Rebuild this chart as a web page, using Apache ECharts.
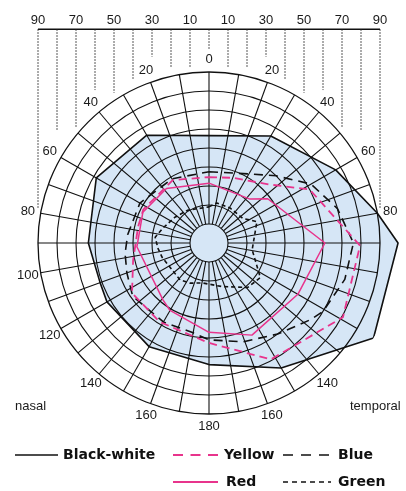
<!DOCTYPE html>
<html>
<head>
<meta charset="utf-8">
<script src="https://cdn.jsdelivr.net/npm/echarts@6/dist/echarts.min.js"></script>
<style>
  html, body { margin: 0; padding: 0; background: #ffffff; }
  #chart { width: 406px; height: 491px; }
</style>
</head>
<body>
<div id="chart"></div>
<script>
// Kinetic perimetry isopters of one eye.
// Meridian angle in degrees, clockwise from superior (0 = up, 90 = temporal, 270 = nasal);
// eccentricity in degrees of visual angle.
const bwAngles    = [0, 30, 60, 80, 90, 120, 150, 180, 210, 240, 250, 270, 300, 330];
const bwEcc       = [56.5, 65, 77, 90, 99.5, 100, 76, 64, 63, 62, 61, 63.5, 68.5, 65.5];

const yellowAngles = [0, 20, 46, 62, 91, 119, 152, 180, 212, 237, 257, 283, 297, 330];
const yellowEcc    = [34.7, 36.5, 44.3, 60, 79.5, 80.6, 69.4, 52.6, 49, 48.3, 41, 38.3, 38.8, 38.2];

const blueAngles = [0, 30, 45, 60, 75, 90, 105, 121, 127, 143, 161, 180, 190, 210, 235, 250, 263, 276, 300, 330];
const blueEcc    = [37.5, 42, 50, 62, 70, 76, 74, 70, 67, 60, 55, 51, 48, 48, 49, 46, 44.5, 43, 42, 39];

const redAngles = [0, 43, 53, 90, 120, 155, 180, 210, 219, 267, 295, 322];
const redEcc    = [31.5, 31.6, 38.7, 61, 54, 53.5, 47, 41, 38.5, 38, 38.4, 36.4];

const greenAngles = [0, 11, 31, 54, 66, 99, 124, 139, 149, 163, 189, 205, 218, 234, 253, 264, 276, 288, 307, 327];
const greenEcc    = [19, 21.5, 21.5, 22, 27.6, 23, 32.6, 31, 27, 24, 21.3, 23.3, 24.7, 24, 25.8, 27, 28.5, 25.5, 22.5, 20.6];

// chart furniture
const ringValues   = [10, 20, 30, 40, 50, 60, 70, 80, 90];
const meridianStep = 10;
const leftLabels   = [20, 40, 60, 80, 100, 120, 140, 160];
const rightLabels  = [20, 40, 60, 80, 140, 160];
const scaleLabels  = [90, 70, 50, 30, 10, 10, 30, 50, 70, 90];

const PINK = '#e8348c';
const INK = '#111111';
const LABEL_FONT = '13px "Liberation Sans", Arial, sans-serif';
const LEGEND_FONT = 'bold 14px "DejaVu Sans", Verdana, sans-serif';

function toPolar(angles, ecc) {
  const pts = angles.map((a, i) => [ecc[i], a]);
  pts.push([ecc[0], angles[0]]);
  return pts;
}

const chart = echarts.init(document.getElementById('chart'), null, { renderer: 'canvas' });

// grid, meridian labels and the top scale
function renderGrid(params, api) {
  const c = api.coord([0, 0]);
  const u = api.coord([10, 90])[0] - c[0]; // pixels per 10 degrees of eccentricity
  const children = [];
  ringValues.forEach(v => {
    children.push({
      type: 'circle',
      shape: { cx: c[0], cy: c[1], r: api.coord([v, 90])[0] - c[0] },
      style: { fill: null, stroke: INK, lineWidth: v === 90 ? 1.3 : 1.1 }
    });
  });
  for (let a = 0; a < 360; a += meridianStep) {
    const p0 = api.coord([10, a]), p1 = api.coord([90, a]);
    children.push({ type: 'line', shape: { x1: p0[0], y1: p0[1], x2: p1[0], y2: p1[1] },
      style: { stroke: INK, lineWidth: 1.1 } });
  }
  const labelR = 96.8;
  const addLabel = (txt, ang) => {
    const p = api.coord([labelR, ang]);
    children.push({ type: 'text', x: p[0], y: p[1],
      style: { text: String(txt), font: LABEL_FONT, fill: '#1a1a1a',
        align: 'center', verticalAlign: 'middle' } });
  };
  addLabel(0, 0);
  addLabel(180, 180);
  leftLabels.forEach(v => addLabel(v, 360 - v));
  rightLabels.forEach(v => addLabel(v, v));

  // top scale with dotted drop lines
  const axisY = c[1] - 11.25 * u;
  const dropEnds = [10.15, 9.2, 9.25, 9.8, 8.6, 7.9, 8.05, 6.1, 5.95, 1.85];
  children.push({ type: 'line', shape: { x1: c[0] - 9 * u, y1: axisY, x2: c[0] + 9 * u, y2: axisY },
    style: { stroke: INK, lineWidth: 1.3 } });
  for (let k = -9; k <= 9; k++) {
    const x = c[0] + k * u;
    children.push({ type: 'line', shape: { x1: x, y1: axisY, x2: x, y2: c[1] - dropEnds[Math.abs(k)] * u },
      style: { stroke: '#222', lineWidth: 1, lineDash: [1.5, 1.5] } });
  }
  scaleLabels.forEach((v, i) => {
    children.push({ type: 'text', x: c[0] + (2 * i - 9) * u, y: axisY - 0.45 * u,
      style: { text: String(v), font: LABEL_FONT, fill: '#1a1a1a',
        align: 'center', verticalAlign: 'middle' } });
  });
  return { type: 'group', children };
}

// filled black-white field
function renderField(params, api) {
  const pts = bwAngles.map((a, i) => api.coord([bwEcc[i], a]));
  return { type: 'polygon', shape: { points: pts }, style: { fill: '#d6e6f6', stroke: null } };
}

const lineSeries = (name, angles, ecc, color, width, dash, z) => ({
  name, type: 'line', coordinateSystem: 'polar', data: toPolar(angles, ecc),
  symbol: 'none', smooth: false, z, silent: true, animation: false,
  lineStyle: { color, width, type: dash }
});

chart.setOption({
  animation: false,
  polar: { center: [209, 243], radius: 190 },
  angleAxis: { type: 'value', min: 0, max: 360, startAngle: 90, clockwise: true, show: false },
  radiusAxis: { type: 'value', min: 0, max: 100, show: false },
  series: [
    { type: 'custom', coordinateSystem: 'polar', data: [[0, 0]], renderItem: renderField, z: 1, silent: true },
    { type: 'custom', coordinateSystem: 'polar', data: [[0, 0]], renderItem: renderGrid, z: 2, silent: true },
    lineSeries('Green', greenAngles, greenEcc, INK, 1.6, [4, 3], 3),
    lineSeries('Blue', blueAngles, blueEcc, INK, 1.6, [9, 6], 4),
    lineSeries('Red', redAngles, redEcc, PINK, 1.5, 'solid', 5),
    lineSeries('Yellow', yellowAngles, yellowEcc, PINK, 1.8, [8, 5], 6),
    lineSeries('Black-white', bwAngles, bwEcc, INK, 1.6, 'solid', 7)
  ],
  graphic: [
    { type: 'text', left: 15, top: 400, style: { text: 'nasal', font: LABEL_FONT, fill: '#1a1a1a' } },
    { type: 'text', left: 350, top: 400, style: { text: 'temporal', font: LABEL_FONT, fill: '#1a1a1a' } },
    // legend
    { type: 'line', shape: { x1: 15, y1: 455, x2: 58, y2: 455 }, style: { stroke: INK, lineWidth: 1.5 } },
    { type: 'text', x: 63, y: 455, style: { text: 'Black-white', font: LEGEND_FONT, fill: '#111', verticalAlign: 'middle' } },
    { type: 'line', shape: { x1: 173, y1: 455, x2: 218, y2: 455 }, style: { stroke: PINK, lineWidth: 2, lineDash: [10, 7.5] } },
    { type: 'text', x: 224, y: 455, style: { text: 'Yellow', font: LEGEND_FONT, fill: '#111', verticalAlign: 'middle' } },
    { type: 'line', shape: { x1: 283, y1: 455, x2: 330, y2: 455 }, style: { stroke: INK, lineWidth: 1.5, lineDash: [10, 8] } },
    { type: 'text', x: 338, y: 455, style: { text: 'Blue', font: LEGEND_FONT, fill: '#111', verticalAlign: 'middle' } },
    { type: 'line', shape: { x1: 173, y1: 482, x2: 218, y2: 482 }, style: { stroke: PINK, lineWidth: 2 } },
    { type: 'text', x: 226, y: 482, style: { text: 'Red', font: LEGEND_FONT, fill: '#111', verticalAlign: 'middle' } },
    { type: 'line', shape: { x1: 283, y1: 482, x2: 331, y2: 482 }, style: { stroke: INK, lineWidth: 1.5, lineDash: [5, 4] } },
    { type: 'text', x: 338, y: 482, style: { text: 'Green', font: LEGEND_FONT, fill: '#111', verticalAlign: 'middle' } }
  ]
});
</script>
</body>
</html>
